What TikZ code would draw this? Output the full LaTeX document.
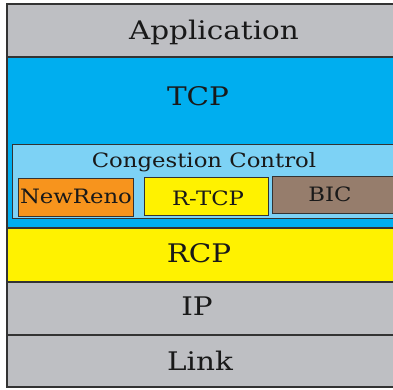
\documentclass[tikz,border=0pt]{standalone}
\usepackage{fontspec}
\setmainfont{DejaVu Serif}[FakeStretch=1.15]
\begin{document}
\begin{tikzpicture}[x=1pt,y=-1pt,
  layer/.style={draw=black!80, line width=1.1pt},
  big/.style={anchor=base, text=black!90, font=\fontsize{25.6}{28}\selectfont, inner sep=0pt},
  small/.style={anchor=base, text=black!90, font=\fontsize{19.8}{22}\selectfont, inner sep=0pt}]
\definecolor{stackgray}{RGB}{190,191,195}
\definecolor{tcpblue}{RGB}{0,174,239}
\definecolor{ccblue}{RGB}{125,210,245}
\definecolor{renoorange}{RGB}{247,148,29}
\definecolor{rcpyellow}{RGB}{255,242,0}
\definecolor{bicbrown}{RGB}{150,125,108}
\useasboundingbox (0,0) rectangle (393,389);
% protocol layers, top to bottom
\fill[stackgray] (7,4) rectangle (396,57);
\fill[tcpblue] (7,57) rectangle (396,228);
\fill[rcpyellow] (7,228) rectangle (396,282);
\fill[stackgray] (7,282) rectangle (396,335);
\fill[stackgray] (7,335) rectangle (396,387);
\draw[layer] (396,4) -- (7,4) -- (7,387) -- (396,387);
\draw[layer] (7,57) -- (396,57);
\draw[layer] (7,228) -- (396,228);
\draw[layer] (7,282) -- (396,282);
\draw[layer] (7,335) -- (396,335);
% congestion control block inside TCP
\filldraw[ccblue, draw=black!80, line width=1pt] (396,144) -- (12,144) -- (12,218) -- (396,218);
\filldraw[renoorange, draw=black!80, line width=1pt] (18,178) rectangle (133,216);
\filldraw[rcpyellow, draw=black!80, line width=1pt] (144,177) rectangle (268,215);
\filldraw[bicbrown, draw=black!80, line width=1pt] (272,176) rectangle (396,213);
% labels
\node[big] (app) at (214,39.3) {Application};
\node[big] (tcp) at (198,105) {TCP};
\node[small] (cc) at (204,167.3) {Congestion Control};
\node[small] (reno) at (76,203.3) {NewReno};
\node[small] (rtcp) at (208,205.7) {R-TCP};
\node[small] (bic) at (330,201.7) {BIC};
\node[big] (rcp) at (199,262.3) {RCP};
\node[big] (ip) at (197,315) {IP};
\node[big] (link) at (200,370) {Link};
\end{tikzpicture}
\end{document}
